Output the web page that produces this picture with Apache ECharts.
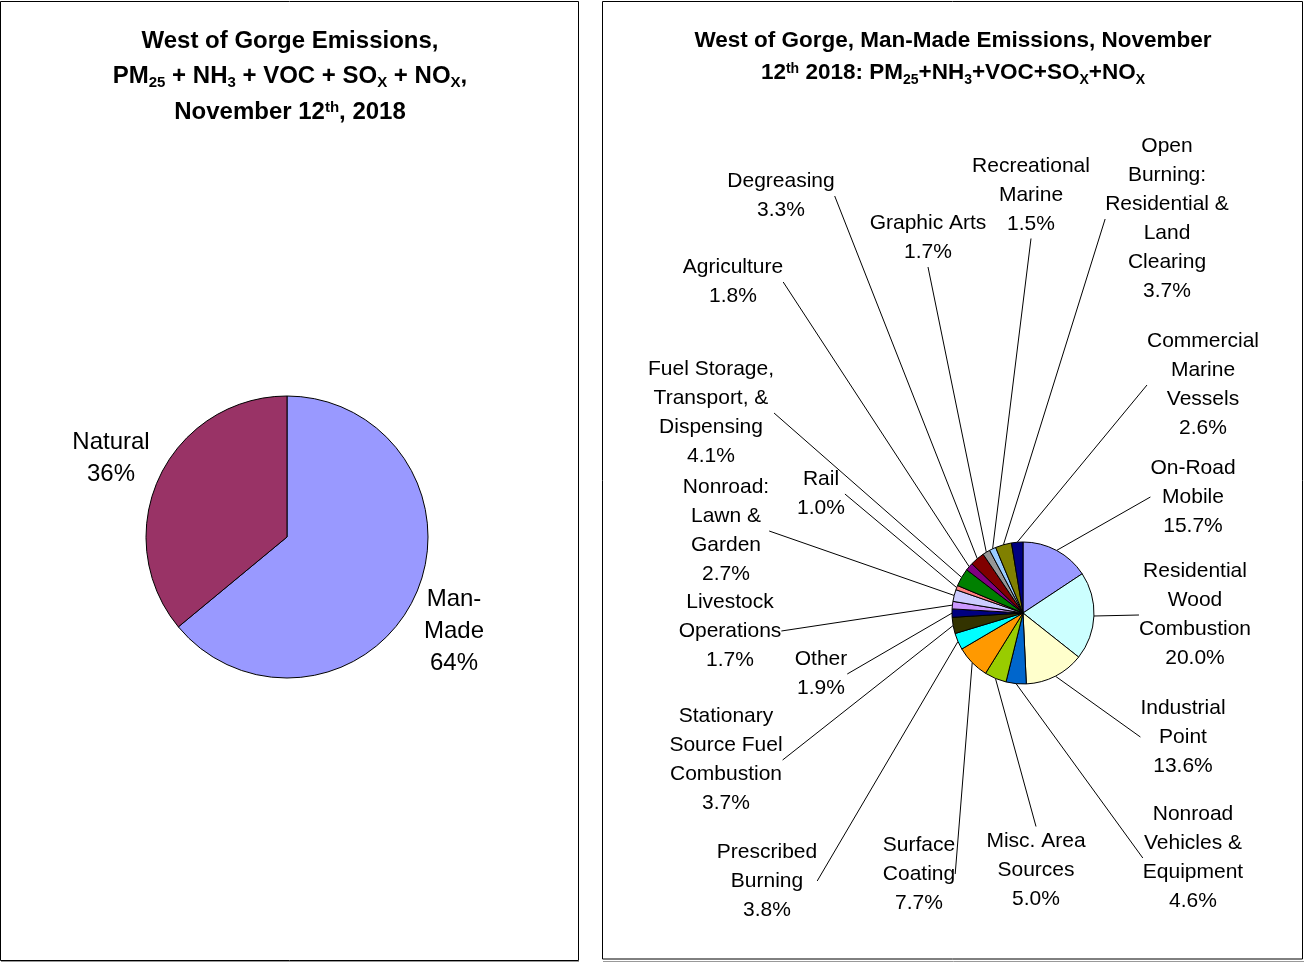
<!DOCTYPE html>
<html><head><meta charset="utf-8">
<script src="https://cdn.jsdelivr.net/npm/echarts@6/dist/echarts.min.js"></script>
<style>html,body{margin:0;padding:0;background:#fff}#c{width:1304px;height:962px}</style>
</head><body><div id="c"></div>
<script>
// ---- Data ----
const overviewNames = ['Man-Made', 'Natural'];
const overviewValues = [64, 36];
const overviewLabelText = ['Man-\nMade', 'Natural'];

const sourceNames = [
  'On-Road Mobile', 'Residential Wood Combustion', 'Industrial Point',
  'Nonroad Vehicles & Equipment', 'Misc. Area Sources', 'Surface Coating',
  'Prescribed Burning', 'Stationary Source Fuel Combustion', 'Other',
  'Livestock Operations', 'Nonroad: Lawn & Garden', 'Rail',
  'Fuel Storage, Transport, & Dispensing', 'Agriculture', 'Degreasing',
  'Graphic Arts', 'Recreational Marine',
  'Open Burning: Residential & Land Clearing', 'Commercial Marine Vessels'
];
const sourceValues = [15.7, 20.0, 13.6, 4.6, 5.0, 7.7, 3.8, 3.7, 1.9, 1.7, 2.7, 1.0, 4.1, 1.8, 3.3, 1.7, 1.5, 3.7, 2.6];
const sourceLabelText = [
  'On-Road\nMobile', 'Residential\nWood\nCombustion', 'Industrial\nPoint',
  'Nonroad\nVehicles &\nEquipment', 'Misc. Area\nSources', 'Surface\nCoating',
  'Prescribed\nBurning', 'Stationary\nSource Fuel\nCombustion', 'Other',
  'Livestock\nOperations', 'Nonroad:\nLawn &\nGarden', 'Rail',
  'Fuel Storage,\nTransport, &\nDispensing', 'Agriculture', 'Degreasing',
  'Graphic Arts', 'Recreational\nMarine',
  'Open\nBurning:\nResidential &\nLand\nClearing', 'Commercial\nMarine\nVessels'
];

// ---- Styles / layout ----
const overviewColors = ['#9999FF', '#993366'];
const sourceColors = ['#9999FF', '#CCFFFF', '#FFFFCC', '#0066CC', '#99CC00', '#FF9900',
  '#00FFFF', '#333300', '#000080', '#CC99FF', '#CCCCFF', '#FF8080', '#008000',
  '#800080', '#800000', '#969696', '#99CCFF', '#808000', '#000080'];
const overviewLabelPos = [[454, 631], [111, 458]];
const sourceLabelPos = [
  [1193, 497], [1195, 615], [1183, 737], [1193, 858], [1036, 870], [919, 874],
  [767, 881], [726, 760], [821, 674], [730, 631], [726, 531], [821, 494],
  [711, 413], [733, 282], [781, 196], [928, 238], [1031, 195], [1167, 219], [1203, 385]
];

const FONT = "'Liberation Sans', Arial, sans-serif";
function makeRich(main, lh, sub, subPad, sup, supPad) {
  return {
    b: { fontSize: main, fontWeight: 'bold', fontFamily: FONT, color: '#000', lineHeight: lh },
    sub: { fontSize: sub, fontWeight: 'bold', fontFamily: FONT, color: '#000', lineHeight: sub, verticalAlign: 'bottom', padding: [0, 0, subPad, 0] },
    sup: { fontSize: sup, fontWeight: 'bold', fontFamily: FONT, color: '#000', lineHeight: sup, verticalAlign: 'top', padding: [supPad, 0, 0, 0] }
  };
}
const leftRich = makeRich(24, 34, 15, 2.5, 15, 5);
const rightRich = makeRich(22.5, 30, 14, 1, 14, 4);
function titleLine(text, cx, cy, rich, lh) {
  return { text: text, left: cx, top: cy - lh / 2, padding: 0, textAlign: 'center',
    textStyle: { rich: rich, lineHeight: lh } };
}

const chart = echarts.init(document.getElementById('c'), null, { renderer: 'canvas' });

function sourceLabelLayout(p) {
  const pos = sourceLabelPos[p.dataIndex];
  const w = p.labelRect.width, h = p.labelRect.height;
  let start = null, end = null;
  try {
    const lay = chart.getModel().getSeriesByIndex(p.seriesIndex).getData().getItemLayout(p.dataIndex);
    const mid = (lay.startAngle + lay.endAngle) / 2;
    end = [lay.cx + lay.r * Math.cos(mid), lay.cy + lay.r * Math.sin(mid)];
    const dx = pos[0] - lay.cx, dy = pos[1] - lay.cy;
    if (Math.abs(dy) > 3 * Math.abs(dx)) {
      start = [pos[0], dy < 0 ? pos[1] + h / 2 : pos[1] - h / 2];
    } else {
      start = [dx < 0 ? pos[0] + w / 2 : pos[0] - w / 2, pos[1]];
    }
  } catch (e) { start = null; }
  const out = { x: pos[0], y: pos[1], align: 'center', verticalAlign: 'middle', hideOverlap: false };
  if (start && end) out.labelLinePoints = [end, start, start];
  return out;
}

chart.setOption({
  animation: false,
  backgroundColor: '#fff',
  title: [
    titleLine('{b|West of Gorge Emissions,}', 290, 41, leftRich, 34),
    titleLine('{b|PM}{sub|25}{b| + NH}{sub|3}{b| + VOC + SO}{sub|X}{b| + NO}{sub|X}{b|,}', 290, 76, leftRich, 34),
    titleLine('{b|November 12}{sup|th}{b|, 2018}', 290, 112, leftRich, 34),
    titleLine('{b|West of Gorge, Man-Made Emissions, November}', 953, 41, rightRich, 30),
    titleLine('{b|12}{sup|th}{b| 2018: PM}{sub|25}{b|+NH}{sub|3}{b|+VOC+SO}{sub|X}{b|+NO}{sub|X}', 953, 73, rightRich, 30)
  ],
  graphic: [
    { type: 'rect', shape: { x: 0.5, y: 1.5, width: 578, height: 959 }, style: { fill: 'none', stroke: '#000', lineWidth: 1 } },
    { type: 'line', shape: { x1: 1, y1: 961.5, x2: 579, y2: 961.5 }, style: { stroke: '#999', lineWidth: 1 } },
    { type: 'rect', shape: { x: 602.5, y: 1.5, width: 700, height: 957.5 }, style: { fill: 'none', stroke: '#000', lineWidth: 1 } },
    { type: 'line', shape: { x1: 603, y1: 961.5, x2: 1304, y2: 961.5 }, style: { stroke: '#999', lineWidth: 1 } }
  ],
  series: [
    {
      type: 'pie',
      center: [287, 537],
      radius: [0, 141],
      startAngle: 90,
      clockwise: true,
      avoidLabelOverlap: false,
      silent: true,
      data: overviewNames.map((n, i) => ({ name: n, value: overviewValues[i], itemStyle: { color: overviewColors[i] } })),
      itemStyle: { borderColor: '#000', borderWidth: 1 },
      label: {
        show: true, position: 'outside', color: '#000', fontFamily: FONT, fontSize: 24, lineHeight: 32,
        formatter: p => overviewLabelText[p.dataIndex] + '\n' + Math.round(p.value) + '%'
      },
      labelLine: { show: false },
      labelLayout: p => ({ x: overviewLabelPos[p.dataIndex][0], y: overviewLabelPos[p.dataIndex][1], align: 'center', verticalAlign: 'middle', hideOverlap: false }),
      emphasis: { disabled: true }
    },
    {
      type: 'pie',
      center: [1023, 613],
      radius: [0, 71],
      startAngle: 90,
      clockwise: true,
      avoidLabelOverlap: false,
      silent: true,
      minShowLabelAngle: 0,
      data: sourceNames.map((n, i) => ({ name: n, value: sourceValues[i], itemStyle: { color: sourceColors[i] } })),
      itemStyle: { borderColor: '#000', borderWidth: 1 },
      label: {
        show: true, position: 'outside', color: '#000', fontFamily: FONT, fontSize: 21, lineHeight: 29,
        formatter: p => sourceLabelText[p.dataIndex] + '\n' + p.value.toFixed(1) + '%'
      },
      labelLine: { show: true, length: 8, length2: 0, smooth: false, lineStyle: { color: '#000', width: 1 } },
      labelLayout: sourceLabelLayout,
      emphasis: { disabled: true }
    }
  ]
});
</script></body></html>
